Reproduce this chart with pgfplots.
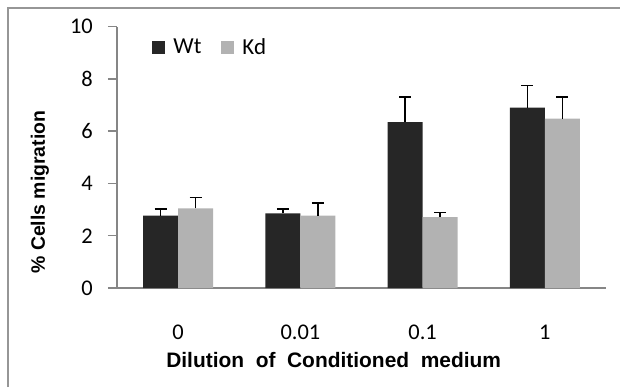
\documentclass[border=0pt]{standalone}
\usepackage{fontspec}
\setmainfont{Carlito}
\newfontfamily\arialbold{Liberation Sans Bold}
\usepackage{pgfplots}
\pgfplotsset{compat=1.18}
\usepackage{pgfplotstable}
\definecolor{wtcol}{RGB}{38,38,38}
\definecolor{kdcol}{RGB}{178,178,178}
\definecolor{axgray}{RGB}{134,134,134}
\definecolor{framegray}{RGB}{150,150,150}

\pgfplotstableread{
x y err
0 2.77 0.26
1 2.86 0.17
2 6.35 0.96
3 6.90 0.85
}\wt
\pgfplotstableread{
x y err
0 3.05 0.41
1 2.77 0.49
2 2.71 0.18
3 6.48 0.83
}\kd

\begin{document}
\begin{tikzpicture}[x=1bp,y=1bp]
\useasboundingbox (0,0) rectangle (620,387);
\draw[framegray, line width=1.5bp] (8,0) -- (8,379) -- (621,379);
\begin{axis}[
  at={(117bp,99bp)}, anchor=south west,
  scale only axis,
  width=489bp, height=261.3bp,
  xmin=-0.5, xmax=3.5,
  ymin=0, ymax=10,
  ytick={0,2,...,10},
  xtick={0,1,2,3},
  xticklabels={0,0.01,0.1,1},
  /pgf/number format/assume math mode=true,
  axis x line*=bottom, axis y line*=left,
  axis line style={axgray, line width=1.5bp, -},
  x axis line style={-},
  y axis line style={-},
  tick align=outside,
  major tick length=9bp,
  ytick style={axgray, line width=1.5bp},
  xtick style={draw=none},
  tick label style={font=\fontsize{22.5}{24}\selectfont, text=black},
  yticklabel style={anchor=east, inner sep=0pt, xshift=-15bp},
  xticklabel style={anchor=base, inner sep=0pt, yshift=-42bp},
  xlabel={\arialbold Dilution\ \ of\ \ Conditioned\ \ medium},
  xlabel style={font=\fontsize{21}{24}\selectfont, at={(rel axis cs:0.443,-0.306)}, anchor=base},
  ylabel={\arialbold \% Cells migration},
  ylabel style={font=\fontsize{19.5}{22}\selectfont, at={(rel axis cs:-0.1575,0.367)}, anchor=center, rotate=0},
  ybar, bar width=35bp,
  legend style={draw=none, fill=none, at={(rel axis cs:0.072,0.922)}, anchor=west, inner sep=0pt,
    font=\fontsize{23}{25}\selectfont, legend columns=2,
    /tikz/every odd column/.append style={column sep=6bp},
    /tikz/every even column/.append style={column sep=18bp}},
  legend image code/.code={\fill[#1] (0bp,-6.5bp) rectangle (13bp,6.5bp);},
  clip=false,
]
\addplot[fill=wtcol, draw=none, bar shift=-17.5bp,
  error bars/.cd, y dir=plus, y explicit,
  error bar style={black, line width=1.5bp},
  error mark options={rotate=90, mark size=6bp, black, line width=1.5bp}]
  table[x=x, y=y, y error=err] {\wt};
\addplot[fill=kdcol, draw=none, bar shift=17.5bp,
  error bars/.cd, y dir=plus, y explicit,
  error bar style={black, line width=1.5bp},
  error mark options={rotate=90, mark size=6bp, black, line width=1.5bp}]
  table[x=x, y=y, y error=err] {\kd};
\legend{Wt, Kd}
\end{axis}
\end{tikzpicture}
\end{document}
